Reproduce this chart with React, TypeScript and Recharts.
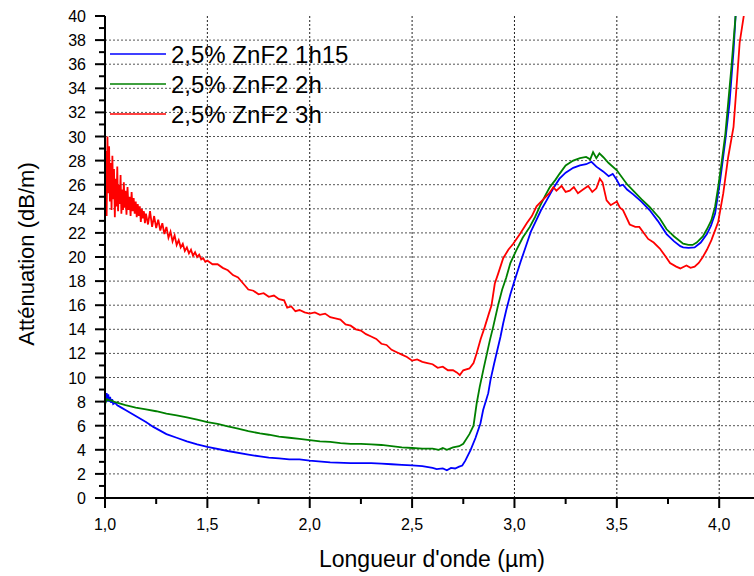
import React from 'react'
import { LineChart, Line, XAxis, YAxis, ReferenceLine } from 'recharts'

const FONT = '"Liberation Sans", Arial, sans-serif'

// axis ticks
const xMajorTicks = [1, 1.5, 2, 2.5, 3, 3.5, 4]
const xMinorTicks = [1.25, 1.75, 2.25, 2.75, 3.25, 3.75]
const yMajorTicks = [0, 2, 4, 6, 8, 10, 12, 14, 16, 18, 20, 22, 24, 26, 28, 30, 32, 34, 36, 38, 40]
const yMinorTicks = [1, 3, 5, 7, 9, 11, 13, 15, 17, 19, 21, 23, 25, 27, 29, 31, 33, 35, 37, 39]
const xGrid = [1.5, 2, 2.5, 3, 3.5, 4]
const yGrid = [2, 4, 6, 8, 10, 12, 14, 16, 18, 20, 22, 24, 26, 28, 30, 32, 34, 36, 38]

const seriesNames = ['2,5% ZnF2 1h15', '2,5% ZnF2 2h', '2,5% ZnF2 3h']
const seriesColors = ['#0000FF', '#008000', '#FF0000']

// 2,5% ZnF2 1h15 (blue)
const blueX = [
  1.0, 1.004, 1.008, 1.012, 1.016, 1.02, 1.025, 1.03, 1.035, 1.04, 1.05, 1.06, 1.08, 1.1, 1.15, 1.2,
  1.236, 1.3, 1.35, 1.4, 1.45, 1.5, 1.6, 1.7, 1.757, 1.8, 1.85, 1.9, 1.95, 2.0, 2.1, 2.2, 2.25, 2.3,
  2.35, 2.4, 2.45, 2.5, 2.55, 2.6, 2.62, 2.65, 2.67, 2.69, 2.71, 2.73, 2.745, 2.76, 2.786, 2.81, 2.834,
  2.847, 2.872, 2.883, 2.9, 2.932, 2.945, 2.96, 2.98, 3.0, 3.03, 3.06, 3.08, 3.108, 3.13, 3.157, 3.19,
  3.22, 3.25, 3.287, 3.32, 3.35, 3.376, 3.4, 3.433, 3.46, 3.48, 3.5, 3.515, 3.53, 3.55, 3.58, 3.62,
  3.66, 3.7, 3.743, 3.78, 3.81, 3.824, 3.85, 3.88, 3.91, 3.94, 3.96, 3.98, 4.005, 4.03, 4.05, 4.07,
  4.08, 4.09
]
const blueY = [
  8.8, 8.1, 8.7, 8.0, 8.6, 8.0, 8.4, 7.9, 8.2, 7.8, 7.9, 7.7, 7.5, 7.3, 6.8, 6.3,
  5.9, 5.3, 5.0, 4.7, 4.45, 4.25, 3.9, 3.6, 3.45, 3.35, 3.28, 3.2, 3.2, 3.1, 2.95, 2.9, 2.9, 2.9,
  2.85, 2.8, 2.75, 2.7, 2.65, 2.5, 2.4, 2.45, 2.3, 2.5, 2.45, 2.6, 2.7, 3.1, 4.0, 5.0, 6.2,
  7.3, 8.7, 9.8, 11.1, 13.4, 14.5, 15.6, 16.9, 18.0, 19.6, 21.1, 22.1, 23.1, 23.9, 24.7, 25.7,
  26.5, 27.0, 27.4, 27.6, 27.7, 27.9, 27.5, 27.1, 26.7, 26.9, 26.4, 25.9, 26.0, 25.6, 25.2, 24.6,
  23.9, 23.0, 21.9, 21.3, 20.9, 20.8, 20.75, 20.8, 21.2, 21.9, 22.6, 23.6, 26.4, 29.7, 32.7, 37.1,
  40.0, 42.0
]

// 2,5% ZnF2 2h (green)
const greenX = [
  1.0, 1.005, 1.01, 1.02, 1.03, 1.05, 1.1, 1.15, 1.2, 1.25, 1.3, 1.35, 1.4, 1.45, 1.5, 1.55, 1.6, 1.65,
  1.7, 1.757, 1.8, 1.85, 1.9, 1.95, 2.0, 2.05, 2.1, 2.15, 2.2, 2.25, 2.3, 2.35, 2.4, 2.45, 2.5, 2.55,
  2.6, 2.63, 2.65, 2.67, 2.7, 2.73, 2.75, 2.78, 2.8, 2.815, 2.83, 2.85, 2.88, 2.896, 2.92, 2.94, 2.96,
  2.98, 3.01, 3.04, 3.075, 3.1, 3.124, 3.15, 3.173, 3.2, 3.22, 3.25, 3.287, 3.32, 3.35, 3.37, 3.384,
  3.4, 3.415, 3.433, 3.46, 3.5, 3.547, 3.58, 3.62, 3.66, 3.71, 3.743, 3.78, 3.824, 3.85, 3.87, 3.89,
  3.92, 3.94, 3.962, 3.98, 3.995, 4.01, 4.03, 4.045, 4.06, 4.08, 4.09
]
const greenY = [
  8.3, 8.0, 8.2, 8.1, 8.1, 7.95, 7.7, 7.5, 7.35, 7.2, 7.0, 6.85, 6.7, 6.5, 6.3, 6.15, 5.95, 5.75,
  5.55, 5.36, 5.25, 5.1, 5.0, 4.9, 4.8, 4.7, 4.65, 4.55, 4.5, 4.5, 4.45, 4.4, 4.3, 4.2, 4.15, 4.1,
  4.1, 4.0, 4.15, 4.0, 4.2, 4.3, 4.5, 5.3, 6.0, 7.8, 9.2, 10.8, 13.1, 14.2, 16.0, 17.3, 18.3,
  19.5, 20.6, 21.6, 22.5, 23.3, 24.2, 25.1, 25.8, 26.4, 26.9, 27.6, 28.0, 28.2, 28.3, 28.1, 28.7,
  28.2, 28.6, 28.3, 27.8, 27.2, 26.1, 25.5, 24.8, 24.15, 23.2, 22.3, 21.7, 21.1, 21.0, 21.0, 21.2,
  21.7, 22.3, 23.05, 24.2, 25.8, 27.6, 30.2, 33.0, 35.8, 40.0, 42.0
]

// 2,5% ZnF2 3h (red)
const redX = [
  1.0, 1.004, 1.008, 1.012, 1.016, 1.02, 1.024, 1.028, 1.032, 1.036, 1.04, 1.044, 1.048, 1.052, 1.056,
  1.06, 1.064, 1.068, 1.072, 1.076, 1.08, 1.084, 1.088, 1.092, 1.096, 1.1, 1.105, 1.11, 1.115, 1.12,
  1.125, 1.13, 1.135, 1.14, 1.145, 1.15, 1.155, 1.16, 1.165, 1.17, 1.175, 1.18, 1.185, 1.19, 1.195,
  1.2, 1.21, 1.22, 1.23, 1.24, 1.25, 1.26, 1.27, 1.28, 1.29, 1.3, 1.31, 1.32, 1.33, 1.34, 1.35, 1.36,
  1.37, 1.38, 1.39, 1.4, 1.41, 1.42, 1.43, 1.44, 1.45, 1.46, 1.47, 1.48, 1.49, 1.5, 1.525, 1.55, 1.575,
  1.6, 1.625, 1.65, 1.675, 1.7, 1.725, 1.75, 1.775, 1.8, 1.825, 1.85, 1.875, 1.89, 1.91, 1.93, 1.95,
  1.975, 2.0, 2.025, 2.05, 2.075, 2.1, 2.125, 2.15, 2.175, 2.2, 2.225, 2.25, 2.275, 2.3, 2.325, 2.35,
  2.375, 2.4, 2.425, 2.45, 2.475, 2.5, 2.525, 2.55, 2.575, 2.6, 2.625, 2.65, 2.675, 2.7, 2.72, 2.733,
  2.75, 2.78, 2.8, 2.815, 2.835, 2.855, 2.875, 2.888, 2.904, 2.92, 2.945, 2.97, 2.994, 3.03,
  3.06, 3.085, 3.108, 3.13, 3.148, 3.17, 3.19, 3.205, 3.23, 3.25, 3.27, 3.29, 3.31, 3.335, 3.36, 3.38,
  3.4, 3.417, 3.43, 3.45, 3.47, 3.5, 3.515, 3.53, 3.563, 3.59, 3.61, 3.653, 3.68, 3.71, 3.74, 3.76,
  3.79, 3.81, 3.84, 3.86, 3.88, 3.9, 3.92, 3.94, 3.962, 3.995, 4.02, 4.044, 4.07, 4.088, 4.1, 4.12, 4.13
]
const redY = [
  25.0, 28.8, 23.4, 30.0, 25.3, 29.2, 24.6, 27.8, 23.9, 28.4, 24.8, 27.3, 23.3, 26.5, 24.2,
  27.5, 23.8, 26.0, 24.4, 26.8, 23.6, 25.6, 23.9, 26.2, 24.1, 25.5, 23.5, 25.8, 23.9, 25.0,
  23.4, 25.4, 23.8, 24.9, 23.6, 24.6, 23.3, 24.4, 23.4, 24.2, 22.9, 24.0, 23.2, 23.8, 22.8,
  23.6, 22.7, 23.8, 22.5, 23.4, 22.4, 23.1, 22.2, 22.8, 21.9, 22.5, 21.6, 22.1, 21.3, 21.8, 21.0, 21.4,
  20.8, 21.1, 20.5, 20.8, 20.3, 20.6, 20.1, 20.4, 20.0, 20.2, 19.8, 19.9, 19.6, 19.7, 19.4, 19.4, 19.1,
  18.9, 18.5, 18.3, 17.8, 17.3, 17.2, 16.9, 17.0, 16.7, 16.8, 16.5, 16.4, 15.8, 15.9, 15.5, 15.6,
  15.4, 15.3, 15.4, 15.2, 15.3, 15.0, 14.9, 14.8, 14.4, 14.3, 14.0, 13.9, 13.6, 13.4, 13.2, 12.8,
  12.7, 12.3, 12.1, 11.9, 11.7, 11.4, 11.5, 11.3, 11.2, 11.1, 10.8, 10.9, 10.6, 10.6, 10.4, 10.2,
  10.6, 10.75, 11.2, 12.0, 13.2, 14.2, 15.3, 16.0, 17.8, 18.6, 19.9, 20.6, 21.1, 22.0,
  22.8, 23.4, 24.2, 24.6, 24.9, 25.3, 25.8, 25.5, 25.9, 25.4, 25.5, 25.8, 25.3, 25.6, 25.9, 25.4,
  25.7, 26.5, 26.2, 24.7, 24.3, 24.6, 24.1, 23.9, 22.7, 22.5, 22.5, 21.5, 21.2, 20.7, 20.0, 19.5,
  19.2, 19.05, 19.3, 19.1, 19.2, 19.5, 20.0, 20.6, 21.4, 22.9, 25.3, 28.3, 30.8, 34.9, 37.8, 40.0, 42.0
]

const toPoints = (xs: number[], ys: number[]) => xs.map((x, i) => ({ x, y: ys[i] }))
const blueData = toPoints(blueX, blueY)
const greenData = toPoints(greenX, greenY)
const redData = toPoints(redX, redY)

const fmt = (v: number) => v.toFixed(1).replace('.', ',')

function XTick(props: any) {
  const { x, y, payload } = props
  const major = xMajorTicks.includes(payload.value)
  return (
    <g>
      <line x1={x} x2={x} y1={y} y2={y + (major ? 10 : 6)} stroke="#000" strokeWidth={2} />
      {major && (
        <text x={x} y={y + 32} textAnchor="middle" fontSize={16} fill="#000" fontFamily={FONT}>
          {fmt(payload.value)}
        </text>
      )}
    </g>
  )
}

function YTick(props: any) {
  const { x, y, payload } = props
  const major = yMajorTicks.includes(payload.value)
  return (
    <g>
      <line x1={x - (major ? 10 : 6)} x2={x} y1={y} y2={y} stroke="#000" strokeWidth={2} />
      {major && (
        <text x={x - 19} y={y + 6} textAnchor="end" fontSize={16} fill="#000" fontFamily={FONT}>
          {payload.value}
        </text>
      )}
    </g>
  )
}

export default function App() {
  const datasets = [blueData, greenData, redData]
  return (
    <div style={{ position: 'absolute', left: 0, top: 0, width: 754, height: 576, background: '#fff' }}>
      <LineChart width={754} height={576} margin={{ top: 16, right: 0, bottom: 0, left: 0 }}>
        <XAxis
          dataKey="x"
          type="number"
          domain={[1, 4.17]}
          allowDataOverflow
          ticks={[...xMajorTicks, ...xMinorTicks].sort((a, b) => a - b)}
          interval={0}
          height={78}
          tickSize={0}
          tickMargin={0}
          tickLine={false}
          axisLine={{ stroke: '#000', strokeWidth: 2 }}
          tick={<XTick />}
        />
        <YAxis
          dataKey="y"
          type="number"
          domain={[0, 40]}
          allowDataOverflow
          ticks={[...yMajorTicks, ...yMinorTicks].sort((a, b) => a - b)}
          interval={0}
          width={105}
          tickSize={0}
          tickMargin={0}
          tickLine={false}
          axisLine={{ stroke: '#000', strokeWidth: 2 }}
          tick={<YTick />}
        />
        {yGrid.map((v) => (
          <ReferenceLine key={'h' + v} y={v} stroke="#555" strokeWidth={1} strokeDasharray="2 2" />
        ))}
        {xGrid.map((v) => (
          <ReferenceLine key={'v' + v} x={v} stroke="#222" strokeWidth={1} strokeDasharray="2 2" />
        ))}
        {datasets.map((d, i) => (
          <Line
            key={seriesNames[i]}
            data={d}
            dataKey="y"
            name={seriesNames[i]}
            type="linear"
            stroke={seriesColors[i]}
            strokeWidth={1.8}
            dot={false}
            activeDot={false}
            isAnimationActive={false}
          />
        ))}
      </LineChart>
      <svg
        width={754}
        height={576}
        style={{ position: 'absolute', left: 0, top: 0, pointerEvents: 'none' }}
        fontFamily={FONT}
      >
        {seriesNames.map((name, i) => (
          <g key={name}>
            <line x1={110} x2={166} y1={54 + i * 30} y2={54 + i * 30} stroke={seriesColors[i]} strokeWidth={1.6} />
            <text x={171} y={63 + i * 30} fontSize={24} fill="#000">
              {name}
            </text>
          </g>
        ))}
        <text x={432} y={567} textAnchor="middle" fontSize={23} fill="#000">
          Longueur d'onde (µm)
        </text>
        <text transform="translate(34,254) rotate(-90)" textAnchor="middle" fontSize={22} fill="#000">
          Atténuation (dB/m)
        </text>
      </svg>
    </div>
  )
}
